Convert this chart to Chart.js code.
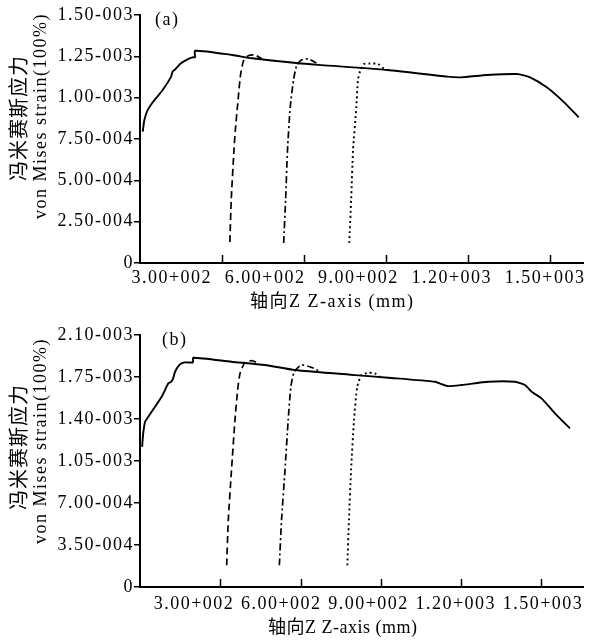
<!DOCTYPE html>
<html>
<head>
<meta charset="utf-8">
<script src="https://cdn.jsdelivr.net/npm/chart.js@4.4.0/dist/chart.umd.min.js"></script>
<style>
  body { margin: 0; background: #fff; }
  #wrap { position: relative; width: 590px; height: 641px; }
  canvas { position: absolute; left: 0; }
  #chartA { top: 0; }
  #chartB { top: 320px; }
</style>
</head>
<body>
<div id="wrap">
  <canvas id="chartA" width="590" height="320"></canvas>
  <canvas id="chartB" width="590" height="321"></canvas>
</div>
<script>
// ---- panel (a) ----
const mainXA = [10, 16, 28, 53, 83, 114, 119, 126, 150, 174, 192, 201, 202, 338, 410, 580, 665, 907, 1125, 1174, 1271, 1380, 1428, 1489, 1550, 1606];
const mainYA = [7.94e-4, 8.65e-4, 9.25e-4, 9.86e-4, 1.046e-3, 1.127e-3, 1.157e-3, 1.167e-3, 1.208e-3, 1.232e-3, 1.244e-3, 1.244e-3, 1.284e-3, 1.258e-3, 1.238e-3, 1.208e-3, 1.197e-3, 1.167e-3, 1.127e-3, 1.123e-3, 1.137e-3, 1.143e-3, 1.123e-3, 1.063e-3, 0.976e-3, 0.881e-3];
const dashXA = [329, 334, 344, 349, 359, 368, 380, 398, 420, 446];
const dashYA = [1.27e-4, 3.81e-4, 6.83e-4, 8.04e-4, 9.86e-4, 1.137e-3, 1.228e-3, 1.255e-3, 1.258e-3, 1.236e-3];
const ddXA = [526, 533, 540, 550, 562, 574, 591, 616, 646];
const ddYA = [1.21e-4, 3.81e-4, 6.83e-4, 9.43e-4, 1.107e-3, 1.197e-3, 1.228e-3, 1.234e-3, 1.210e-3];
const dotXA = [766, 773, 780, 792, 798, 807, 820, 842, 871, 893];
const dotYA = [1.21e-4, 3.81e-4, 6.83e-4, 9.43e-4, 1.107e-3, 1.167e-3, 1.204e-3, 1.207e-3, 1.204e-3, 1.176e-3];
const yTicksA = [0, 2.5e-4, 5e-4, 7.5e-4, 1e-3, 1.25e-3, 1.5e-3];
const yLabelsA = ['0', '2.50-004', '5.00-004', '7.50-004', '1.00-003', '1.25-003', '1.50-003'];

// ---- panel (b) ----
const mainXB = [8, 12, 19, 31, 56, 81, 106, 116, 124, 131, 149, 168, 198, 199, 342, 467, 579, 804, 928, 1103, 1127, 1152, 1202, 1302, 1402, 1439, 1464, 1501, 1551, 1607];
const mainYB = [1.168e-3, 1.280e-3, 1.377e-3, 1.418e-3, 1.502e-3, 1.585e-3, 1.697e-3, 1.710e-3, 1.739e-3, 1.794e-3, 1.855e-3, 1.872e-3, 1.872e-3, 1.911e-3, 1.877e-3, 1.850e-3, 1.808e-3, 1.766e-3, 1.744e-3, 1.710e-3, 1.691e-3, 1.674e-3, 1.683e-3, 1.710e-3, 1.710e-3, 1.683e-3, 1.627e-3, 1.572e-3, 1.447e-3, 1.322e-3];
const dashXB = [324, 330, 342, 355, 365, 374, 392, 417, 448];
const dashYB = [1.81e-4, 5.56e-4, 9.74e-4, 1.391e-3, 1.641e-3, 1.780e-3, 1.869e-3, 1.886e-3, 1.862e-3];
const ddXB = [521, 529, 542, 554, 564, 577, 604, 641, 673];
const ddYB = [1.81e-4, 5.56e-4, 9.74e-4, 1.391e-3, 1.669e-3, 1.794e-3, 1.850e-3, 1.830e-3, 1.796e-3];
const dotXB = [775, 781, 789, 800, 812, 828, 853, 878, 897];
const dotYB = [1.81e-4, 5.56e-4, 9.74e-4, 1.391e-3, 1.669e-3, 1.766e-3, 1.785e-3, 1.780e-3, 1.752e-3];
const yTicksB = [0, 3.5e-4, 7e-4, 1.05e-3, 1.4e-3, 1.75e-3, 2.1e-3];
const yLabelsB = ['0', '3.50-004', '7.00-004', '1.05-003', '1.40-003', '1.75-003', '2.10-003'];

// shared x axis
const xTicks = [300, 600, 900, 1200, 1500];
const xLabels = ['3.00+002', '6.00+002', '9.00+002', '1.20+003', '1.50+003'];

const SERIF = "'Liberation Serif', 'Times New Roman', 'Noto Sans CJK SC', serif";
const CJK = "'Noto Sans CJK SC', sans-serif";

function series(xs, ys, dash, width) {
    return {
        data: xs.map((x, i) => ({ x: x, y: ys[i] })),
        borderColor: '#000',
        borderWidth: width,
        borderDash: dash,
        pointRadius: 0,
        showLine: true,
        fill: false,
        tension: 0.2
    };
}

// wide-set glyphs like the scanned figure
const spacing = {
    id: 'spacing',
    beforeUpdate(chart) { chart.ctx.letterSpacing = '1.5px'; },
    beforeDraw(chart) { chart.ctx.letterSpacing = '1.5px'; }
};

function decor(p) {
    return {
        id: 'decor',
        afterDraw(chart) {
            const { ctx, chartArea, scales } = chart;
            ctx.save();
            ctx.strokeStyle = '#000';
            ctx.fillStyle = '#000';
            ctx.lineWidth = 1.5;
            // tick marks point into the plot
            xTicks.forEach(v => {
                const px = Math.round(scales.x.getPixelForValue(v)) + 0.5;
                ctx.beginPath();
                ctx.moveTo(px, chartArea.bottom);
                ctx.lineTo(px, chartArea.bottom - 8);
                ctx.stroke();
            });
            ctx.letterSpacing = '1.5px';
            ctx.textBaseline = 'middle';
            ctx.textAlign = 'left';
            ctx.font = '18px ' + SERIF;
            ctx.fillText(p.tag, p.tagX, p.tagY);
            ctx.letterSpacing = p.xTitleSpacing;
            ctx.fillText('轴向Z Z-axis (mm)', p.xTitleX, p.xTitleY);
            // two-line y title
            ctx.textAlign = 'center';
            ctx.save();
            ctx.letterSpacing = '1px';
            ctx.translate(18, p.cnY);
            ctx.rotate(-Math.PI / 2);
            ctx.font = '20px ' + CJK;
            ctx.fillText('冯米赛斯应力', 0, 0);
            ctx.restore();
            ctx.save();
            ctx.letterSpacing = '1.5px';
            ctx.translate(41, p.enY);
            ctx.rotate(-Math.PI / 2);
            ctx.font = '18px ' + SERIF;
            ctx.fillText('von Mises strain(100%)', 0, 0);
            ctx.restore();
            ctx.restore();
        }
    };
}

function makeChart(id, s, p) {
    const font = { family: SERIF, size: 18 };
    return new Chart(document.getElementById(id), {
        type: 'scatter',
        data: {
            datasets: [
                series(s.mainX, s.mainY, [], 1.9),
                series(s.dashX, s.dashY, [7, 4], 1.7),
                series(s.ddX, s.ddY, [7, 3, 2, 3], 1.7),
                series(s.dotX, s.dotY, [2, 3], 1.9)
            ]
        },
        options: {
            responsive: false,
            animation: false,
            layout: { padding: { top: 15, right: p.padRight, left: 0, bottom: 0 } },
            plugins: { legend: { display: false }, tooltip: { enabled: false } },
            scales: {
                x: {
                    type: 'linear', position: 'bottom', weight: 0,
                    min: 0, max: p.xMax,
                    afterFit: sc => { sc.height = 0; },
                    ticks: { display: false },
                    grid: { display: false, drawTicks: false },
                    border: { color: '#000', width: 2 }
                },
                x2: {
                    type: 'linear', axis: 'x', position: 'bottom', weight: 1,
                    min: p.labMin, max: p.labMax,
                    afterFit: sc => { sc.height = p.x2Height; },
                    afterBuildTicks: sc => { sc.ticks = xLabels.map((_, i) => ({ value: i + 1 })); },
                    ticks: {
                        callback: (v, i) => xLabels[i],
                        autoSkip: false, maxRotation: 0, padding: p.x2Pad,
                        font: font, color: '#000'
                    },
                    grid: { display: false, drawTicks: false },
                    border: { display: false }
                },
                y: {
                    min: 0, max: s.yTicks[s.yTicks.length - 1],
                    afterFit: sc => { sc.width = 140; },
                    afterBuildTicks: sc => { sc.ticks = s.yTicks.map(v => ({ value: v })); },
                    ticks: {
                        callback: (v, i) => s.yLabels[i],
                        padding: 0, font: font, color: '#000'
                    },
                    grid: { drawOnChartArea: false, tickLength: 6, color: '#000', lineWidth: 1.5 },
                    border: { color: '#000', width: 2 }
                }
            }
        },
        plugins: [spacing, decor(p)]
    });
}

makeChart('chartA', {
    mainX: mainXA, mainY: mainYA, dashX: dashXA, dashY: dashYA,
    ddX: ddXA, ddY: ddYA, dotX: dotXA, dotY: dotYA,
    yTicks: yTicksA, yLabels: yLabelsA
}, {
    xMax: 1625, labMin: 0.66, labMax: 5.415, padRight: 3, x2Height: 57, x2Pad: 4,
    tag: '(a)', tagX: 155, tagY: 20,
    xTitleX: 250, xTitleY: 302, xTitleSpacing: '1.5px',
    cnY: 118, enY: 116
});

makeChart('chartB', {
    mainX: mainXB, mainY: mainYB, dashX: dashXB, dashY: dashYB,
    ddX: ddXB, ddY: ddYB, dotX: dotXB, dotY: dotYB,
    yTicks: yTicksB, yLabels: yLabelsB
}, {
    xMax: 1656, labMin: 0.381, labMax: 5.458, padRight: 5, x2Height: 54, x2Pad: 6,
    tag: '(b)', tagX: 162, tagY: 20,
    xTitleX: 268, xTitleY: 308, xTitleSpacing: '0.5px',
    cnY: 127, enY: 121
});
</script>
</body>
</html>
